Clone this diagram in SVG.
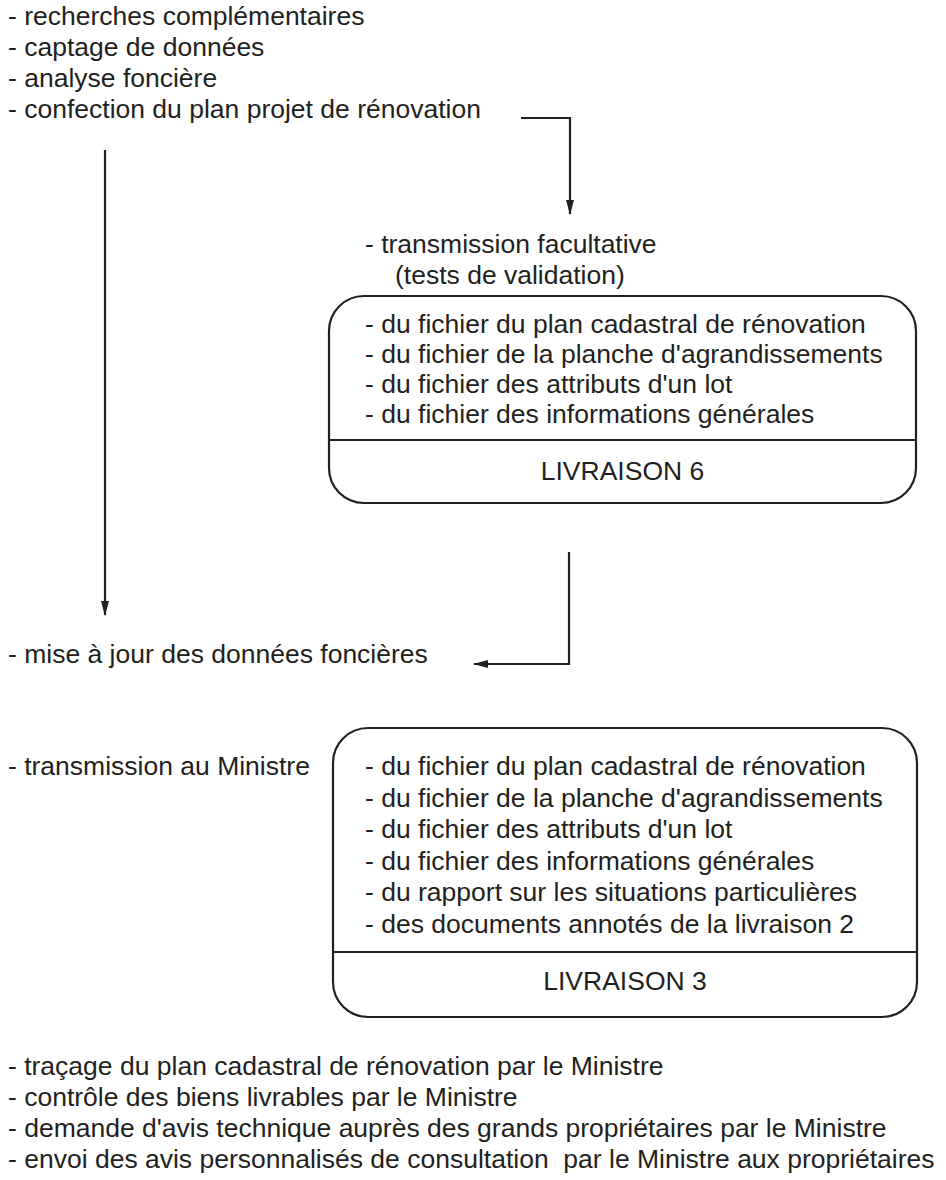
<svg xmlns="http://www.w3.org/2000/svg" width="946" height="1180" viewBox="0 0 946 1180">
<style>
text{font-family:"Liberation Sans",Arial,sans-serif;font-size:26.5px;fill:#231f20;white-space:pre}
.box{fill:none;stroke:#231f20;stroke-width:2.2}
.conn{fill:none;stroke:#231f20;stroke-width:2.2}
</style>
<defs>
<marker id="arr" markerUnits="userSpaceOnUse" markerWidth="15" markerHeight="8" refX="14" refY="4" orient="auto">
<path d="M0,0 L15,4 L0,8 z" fill="#231f20"/>
</marker>
</defs>
<rect width="946" height="1180" fill="#ffffff"/>
<g id="top-text">
<text x="8" y="25">- recherches complémentaires</text>
<text x="8" y="56">- captage de données</text>
<text x="8" y="87">- analyse foncière</text>
<text x="8" y="118">- confection du plan projet de rénovation</text>
</g>
<g id="transmission-facultative">
<text x="365" y="253">- transmission facultative</text>
<text x="395" y="284">(tests de validation)</text>
</g>
<g id="livraison6">
<rect class="box" x="329" y="296" width="587" height="207" rx="35" ry="35"/>
<line class="box" x1="329" y1="440" x2="916" y2="440"/>
<text x="365" y="333">- du fichier du plan cadastral de rénovation</text>
<text x="365" y="363">- du fichier de la planche d'agrandissements</text>
<text x="365" y="393">- du fichier des attributs d'un lot</text>
<text x="365" y="423">- du fichier des informations générales</text>
<text x="622.5" y="480" text-anchor="middle">LIVRAISON 6</text>
</g>
<g id="mise-a-jour">
<text x="8" y="663">- mise à jour des données foncières</text>
</g>
<g id="transmission-ministre">
<text x="8" y="775">- transmission au Ministre</text>
</g>
<g id="livraison3">
<rect class="box" x="333" y="728" width="584" height="289" rx="35" ry="35"/>
<line class="box" x1="333" y1="952" x2="917" y2="952"/>
<text x="365" y="775">- du fichier du plan cadastral de rénovation</text>
<text x="365" y="806.5">- du fichier de la planche d'agrandissements</text>
<text x="365" y="838">- du fichier des attributs d'un lot</text>
<text x="365" y="869.5">- du fichier des informations générales</text>
<text x="365" y="901">- du rapport sur les situations particulières</text>
<text x="365" y="932.5">- des documents annotés de la livraison 2</text>
<text x="625" y="990" text-anchor="middle">LIVRAISON 3</text>
</g>
<g id="bottom-text">
<text x="8" y="1075">- traçage du plan cadastral de rénovation par le Ministre</text>
<text x="8" y="1106">- contrôle des biens livrables par le Ministre</text>
<text x="8" y="1137">- demande d'avis technique auprès des grands propriétaires par le Ministre</text>
<text x="8" y="1168">- envoi des avis personnalisés de consultation  par le Ministre aux propriétaires</text>
</g>
<g id="connectors">
<polyline class="conn" points="521,118 570,118 570,214" marker-end="url(#arr)"/>
<line class="conn" x1="105" y1="150" x2="105" y2="615" marker-end="url(#arr)"/>
<polyline class="conn" points="569,552 569,664 474,664" marker-end="url(#arr)"/>
</g>
</svg>
